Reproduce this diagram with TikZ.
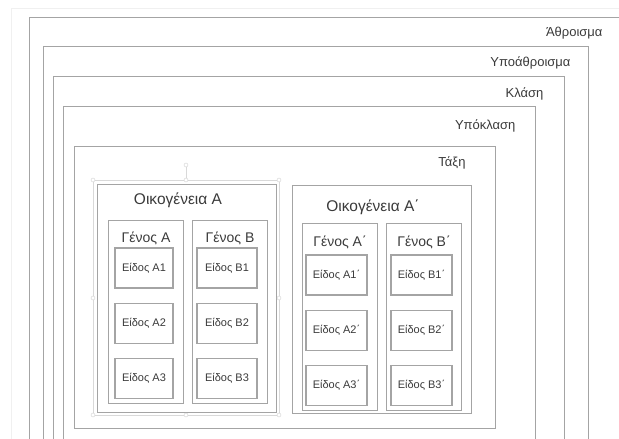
\documentclass[tikz,border=0pt]{standalone}
\usepackage{fontspec}
\setmainfont{Liberation Sans}
\usetikzlibrary{positioning}
\definecolor{boxline}{HTML}{A4A4A4}
\definecolor{boxtext}{HTML}{3A3A3A}
\tikzstyle{level} = [draw=boxline, line width=1.4pt, anchor=north west, inner sep=0pt]
\tikzstyle{levellabel} = [anchor=east, text=boxtext, font=\fontsize{13}{15}\selectfont]

\begin{document}
\begin{tikzpicture}[
    x=1pt, y=-1pt,
    node distance=14pt,
    species/.style={draw=boxline, line width=1.1pt, minimum width=60pt, minimum height=40pt, inner sep=0pt, text=boxtext, font=\fontsize{11}{13}\selectfont},
    genus/.style={level, line width=1.1pt, minimum width=75pt},
    family/.style={level, line width=1.2pt, minimum width=179pt, minimum height=228pt},
    handle/.style={circle, draw=gray!35, fill=white, inner sep=0pt, minimum size=4pt}
]
\useasboundingbox (0,0) rectangle (619,439);
\clip (0,0) rectangle (619,439);

% page edge
\draw [gray!12, line width=1pt] (11,460) -- (11,8) -- (640,8);

% Nested levels
\node [level, minimum width=621pt, minimum height=443pt] (sum) at (29,17) {};
\node [level, minimum width=545pt, minimum height=414pt] (subsum) at (43,46) {};
\node [level, minimum width=511pt, minimum height=384pt] (class) at (53,76) {};
\node [level, minimum width=472pt, minimum height=354pt] (subclass) at (63,106) {};
\node [level, minimum width=421pt, minimum height=282pt] (order) at (74,146) {};

\node [levellabel] (sumlabel) at (606,33) {Άθροισμα};
\node [levellabel] (subsumlabel) at (574,63) {Υποάθροισμα};
\node [levellabel] (classlabel) at (547,94) {Κλάση};
\node [levellabel] (subclasslabel) at (519,126) {Υπόκλαση};
\node [levellabel] (orderlabel) at (469,163) {Τάξη};

% Families
\node [family] (famA) at (97,184) {};
\node [family] (famB) at (292,185) {};
\node [text=boxtext, font=\fontsize{15.5}{18}\selectfont] (famAlabel) at (178,200) {Οικογένεια Α};
\node [text=boxtext, font=\fontsize{15.5}{18}\selectfont] (famBlabel) at (373,207) {Οικογένεια Α΄};

% selection handles round family A
\draw [gray!30, line width=0.8pt] (93,180) rectangle (279,415);
\draw [gray!30, line width=0.8pt] (186,180) -- (186,167);
\foreach \hx/\hy in {93/180, 186/180, 279/180, 93/298, 279/298, 93/415, 186/415, 279/415, 186/165}
    \node [handle] at (\hx,\hy) {};

% Genera
\node [genus, minimum height=183pt] (genAA) at (108,220) {};
\node [genus, minimum height=183pt] (genAB) at (192,220) {};
\node [genus, minimum height=187pt] (genBA) at (302,223) {};
\node [genus, minimum height=187pt] (genBB) at (386,223) {};
\node [text=boxtext, font=\fontsize{14}{16}\selectfont] (genAAlabel) at (146,238) {Γένος Α};
\node [text=boxtext, font=\fontsize{14}{16}\selectfont] (genABlabel) at (230,238) {Γένος Β};
\node [text=boxtext, font=\fontsize{14}{16}\selectfont] (genBAlabel) at (340,242) {Γένος Α΄};
\node [text=boxtext, font=\fontsize{14}{16}\selectfont] (genBBlabel) at (424,242) {Γένος Β΄};

% Species
\node [species, minimum width=58pt] (spAA1) at (144,268) {Είδος Α1};
\node [species, minimum width=58pt, below=of spAA1] (spAA2) {Είδος Α2};
\node [species, minimum width=58pt, below=of spAA2] (spAA3) {Είδος Α3};
\node [species] (spAB1) at (227,268) {Είδος Β1};
\node [species, below=of spAB1] (spAB2) {Είδος Β2};
\node [species, below=of spAB2] (spAB3) {Είδος Β3};
\node [species, minimum width=61pt] (spBA1) at (336.5,275) {Είδος Α1΄};
\node [species, minimum width=61pt, below=of spBA1] (spBA2) {Είδος Α2΄};
\node [species, minimum width=61pt, below=of spBA2] (spBA3) {Είδος Α3΄};
\node [species, minimum width=61pt] (spBB1) at (421.5,275) {Είδος Β1΄};
\node [species, minimum width=61pt, below=of spBB1] (spBB2) {Είδος Β2΄};
\node [species, minimum width=61pt, below=of spBB2] (spBB3) {Είδος Β3΄};

\end{tikzpicture}
\end{document}
